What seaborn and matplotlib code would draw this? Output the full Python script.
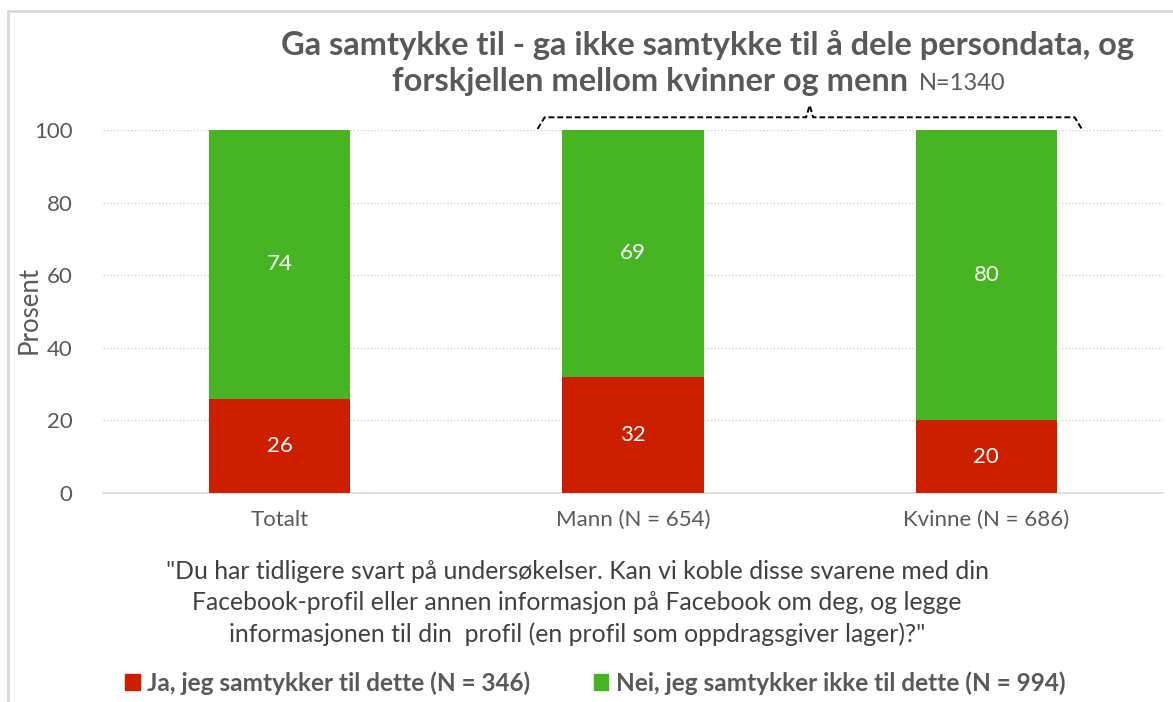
import matplotlib
matplotlib.use("Agg")
import matplotlib.pyplot as plt
import seaborn as sns
import numpy as np
import pandas as pd
from matplotlib.patches import Patch

categories = ["Totalt", "Mann (N = 654)", "Kvinne (N = 686)"]
ja_values = [26, 32, 20]
nei_values = [74, 69, 80]
series_names = ["Ja, jeg samtykker til dette (N = 346)",
                "Nei, jeg samtykker ikke til dette (N = 994)"]
yticks = [0, 20, 40, 60, 80, 100]

RED = "#CC1F00"
GREEN = "#47B523"
TXT = "#595959"

sns.set_theme(style="white")
plt.rcParams["font.family"] = ["Lato", "DejaVu Sans"]

fig = plt.figure(figsize=(11.73, 7.02), dpi=100)
ax = fig.add_axes([103/1173, (702-493)/702, 1060/1173, (493-130)/702])

totals = [min(a + b, 100) for a, b in zip(ja_values, nei_values)]
df = pd.DataFrame({"cat": categories, "ja": ja_values, "total": totals})

sns.barplot(data=df, x="cat", y="total", color=GREEN, saturation=1, width=0.4, ax=ax,
            zorder=3, linewidth=0, edgecolor="none")
sns.barplot(data=df, x="cat", y="ja", color=RED, saturation=1, width=0.4, ax=ax,
            zorder=4, linewidth=0, edgecolor="none")

for i, (a, t) in enumerate(zip(ja_values, totals)):
    ax.text(i, a / 2, f"{a}", ha="center", va="center", color="white", fontsize=16, zorder=5)
    ax.text(i, (a + t) / 2, f"{nei_values[i]}", ha="center", va="center", color="white", fontsize=16, zorder=5)

ax.set_ylim(0, 100)
ax.set_xlim(-0.5, 2.5)
ax.set_yticks(yticks)
ax.set_yticklabels([str(v) for v in yticks], fontsize=16, color=TXT)
ax.tick_params(axis="x", labelsize=16, colors=TXT, length=0, pad=12)
ax.tick_params(axis="y", length=0, pad=22)
ax.set_xlabel("")
ax.set_ylabel("Prosent", fontsize=18.5, color=TXT)
ax.yaxis.set_label_coords(-0.058, 0.504)
for y in yticks[1:]:
    ax.axhline(y, color="#D0D0D0", lw=1, ls=(0, (1, 1.5)), zorder=1)
for s in ["top", "right", "left"]:
    ax.spines[s].set_visible(False)
ax.spines["bottom"].set_color("#D9D9D9")
ax.spines["bottom"].set_linewidth(1.2)

# bracket over Mann and Kvinne
x0, x1 = 1 - 0.27, 2 + 0.27
xm = (x0 + x1) / 2
kw = dict(color="black", lw=1.4, ls=(0, (3, 1.5)), clip_on=False, zorder=6)
ax.plot([x0, x0 + 0.02, xm - 0.01, xm, xm + 0.01, x1 - 0.02, x1],
        [100.3, 103.5, 103.5, 106.8, 103.5, 103.5, 100.3], **kw)

# title
fig.text(708/1173, 1 - 45/702, "Ga samtykke til - ga ikke samtykke til å dele persondata, og",
         ha="center", va="center", fontsize=23.5, fontweight="bold", color=TXT)
fig.text(916/1173, 1 - 82/702, "forskjellen mellom kvinner og menn ", ha="right", va="center",
         fontsize=23.4, fontweight="bold", color=TXT)
fig.text(919/1173, 1 - 84/702, "N=1340", ha="left", va="center", fontsize=17, color=TXT)

# footnote
foot = ("\"Du har tidligere svart på undersøkelser. Kan vi koble disse svarene med din\n"
        "Facebook-profil eller annen informasjon på Facebook om deg, og legge\n"
        "informasjonen til din  profil (en profil som oppdragsgiver lager)?\"")
fig.text(577/1173, (702 - 603) / 702, foot, ha="center", va="center", fontsize=17.8,
         color="#404040", linespacing=1.4)

# legend
handles = [Patch(color=RED), Patch(color=GREEN)]
leg = fig.legend(handles, series_names, loc="center", bbox_to_anchor=(595/1173, (702 - 683) / 702),
                 ncol=2, frameon=False, handlelength=0.6, handleheight=0.6, handletextpad=0.3,
                 columnspacing=2.6, prop={"weight": "bold", "size": 17.6})
for t in leg.get_texts():
    t.set_color(TXT)

# outer border
fig.add_artist(plt.Line2D([8/1173, 8/1173], [0, 1 - 11/702], color="#D9D9D9", lw=2))
fig.add_artist(plt.Line2D([8/1173, 1], [1 - 11/702, 1 - 11/702], color="#D9D9D9", lw=2))

fig.savefig("out.png", dpi=100, facecolor="white")
